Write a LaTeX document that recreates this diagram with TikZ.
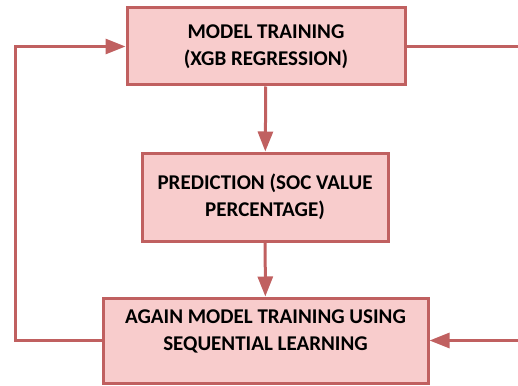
\documentclass[tikz,border=0pt]{standalone}
\usepackage{fontspec}
\setmainfont{Carlito}
\usetikzlibrary{arrows.meta}
\definecolor{box edge}{RGB}{192,96,96}
\definecolor{box area}{RGB}{248,204,204}
\tikzset{stage/.style={draw=box edge, fill=box area, line width=3pt,
    align=center, inner sep=0pt,
    font=\fontsize{21}{27}\selectfont\bfseries},
  link/.style={draw=box edge, line width=3pt},
  flow/.style={link, -{Triangle[length=20pt,width=15pt]}}}

\begin{document}
\begin{tikzpicture}[x=1pt, y=-1pt]
 \useasboundingbox (0,0) rectangle (518,385);

 \node[stage, minimum width=278pt, minimum height=77pt] (model) at (266,46.5)
   {MODEL TRAINING\\(XGB REGRESSION)};
 \node[stage, minimum width=246pt, minimum height=88pt] (predict) at (265,197)
   {PREDICTION (SOC VALUE\\PERCENTAGE)};
 \node[stage, minimum width=325pt, minimum height=85pt] (again) at (265.5,340.5)
   {AGAIN MODEL TRAINING USING\\SEQUENTIAL LEARNING\\[-14pt]\strut};

 \coordinate (loop) at (15,340.5);
 \coordinate (outtop) at (520,46.5);
 \coordinate (outbot) at (520,340.5);

 \draw[flow] (model) -- (predict);
 \draw[flow] (predict) -- (again);
 \draw[flow] (again.west) -- (loop) |- (model.west);
 \draw[link] (model.east) -- (outtop);
 \draw[flow] (outbot) -- (again.east);

\end{tikzpicture}
\end{document}
